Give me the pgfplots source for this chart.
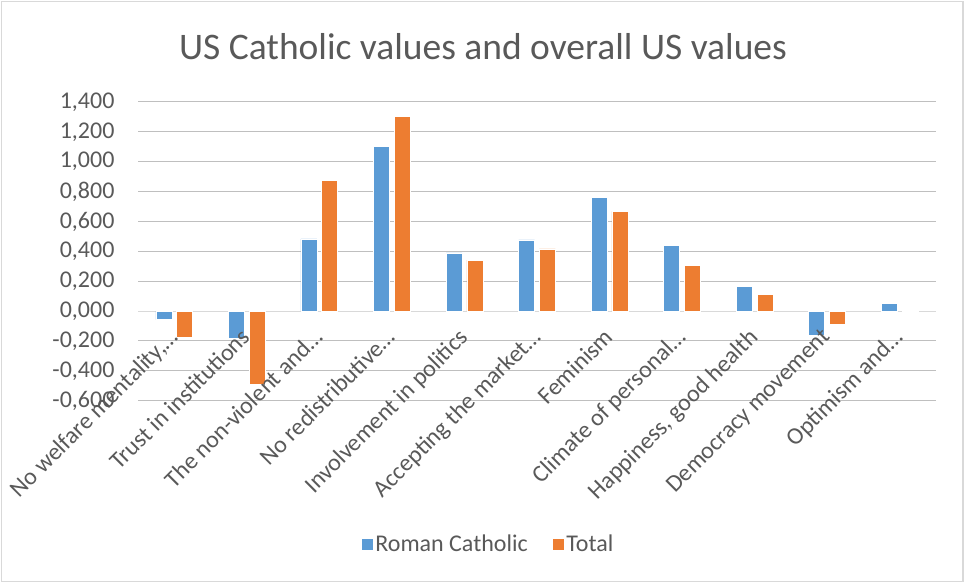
\documentclass[border=0pt]{standalone}
\usepackage{fontspec}
\setmainfont{Carlito}
\usepackage{pgfplots}
\pgfplotsset{compat=1.18}
\definecolor{cblue}{HTML}{5B9BD5}
\definecolor{corange}{HTML}{ED7D31}
\definecolor{grid}{HTML}{D9D9D9}
\definecolor{txt}{HTML}{595959}
\pgfplotsset{
  base/.style={
    at={(138pt,182.3pt)}, anchor=south west,
    scale only axis, width=798pt, height=298.7pt,
    ymin=-0.6, ymax=1.4,
    ytick={-0.6,-0.4,...,1.41},
    xmin=-0.5, xmax=10.5,
    xtick={0,...,10},
    axis x line=middle,
    axis y line=left,
    x axis line style={-, grid, line width=1pt},
    y axis line style={draw=none},
    major tick length=0pt,
    /pgf/number format/assume math mode=true,
  }
}
\begin{document}
\begin{tikzpicture}[x=1pt,y=1pt]
\path[use as bounding box] (0,0) rectangle (966,583);
\draw[grid, line width=1.2pt] (1.5,1.5) rectangle (963,581.5);
\node[txt, font=\fontsize{37.5}{42}\selectfont] at (483,536) {US Catholic values and overall US values};
\begin{axis}[
  base,
  xticklabels={},
  xmajorgrids=false,
  ymajorgrids=true, grid style={grid, line width=1pt},
  yticklabel style={/pgf/number format/fixed, /pgf/number format/fixed zerofill, /pgf/number format/precision=3, /pgf/number format/use comma, /pgf/number format/1000 sep={}},
  yticklabel style={txt, font=\fontsize{24}{28}\selectfont, xshift=-20pt},
  ybar=4.8pt, bar width=16pt,
  legend style={at={(0.4386,-0.48)}, anchor=center, draw=none, legend columns=2, font=\fontsize{24}{28}\selectfont, text=txt, /tikz/every even column/.append style={column sep=22pt}},
  legend image code/.code={\fill[#1] (0pt,-6pt) rectangle (12pt,6pt);},
]
\addplot[fill=cblue, draw=white, line width=0.6pt] coordinates {(0,-0.058) (1,-0.181) (2,0.483) (3,1.100) (4,0.389) (5,0.476) (6,0.761) (7,0.439) (8,0.164) (9,-0.165) (10,0.050)};
\addplot[fill=corange, draw=white, line width=0.6pt] coordinates {(0,-0.178) (1,-0.492) (2,0.877) (3,1.304) (4,0.342) (5,0.416) (6,0.667) (7,0.307) (8,0.114) (9,-0.091) (10,0.002)};
\legend{Roman Catholic, Total}
\end{axis}
\begin{axis}[
  base,
  x axis line style={draw=none},
  yticklabels={},
  xticklabels={{No welfare mentality,…}, Trust in institutions, The non-violent and…, No redistributive…, Involvement in politics, Accepting the market…, Feminism, Climate of personal…, {Happiness, good health}, Democracy movement, Optimism and…},
  xticklabel style={txt, font=\fontsize{24}{28}\selectfont, xshift=-7pt, yshift=-13pt, rotate=45, anchor=north east, inner sep=2pt},
]
\addplot[draw=none] coordinates {(0,0)};
\end{axis}
\end{tikzpicture}
\end{document}
